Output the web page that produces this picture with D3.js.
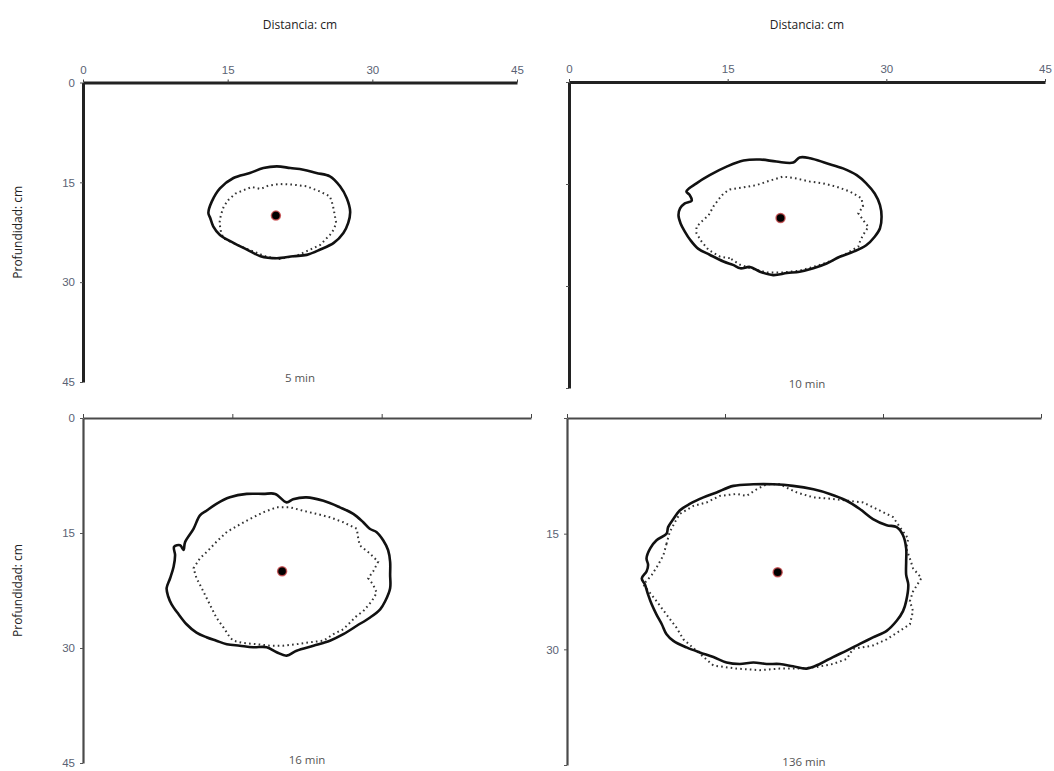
<!DOCTYPE html>
<html>
<head>
<meta charset="utf-8">
<script src="https://cdn.jsdelivr.net/npm/d3@7"></script>
<style>
  body { margin: 0; background: #fff; }
  svg { font-family: "Open Sans", "Noto Sans", sans-serif; }
  .tick text { fill: #5a6274; font-size: 11.5px; }
</style>
</head>
<body>
<svg width="1054" height="771"></svg>
<script>
// ticks (cm)
var tickValues = [0, 15, 30, 45];
var emitter = [20, 20];
var captions = ["5 min", "10 min", "16 min", "136 min"];

// wetting front outlines, [distance cm, depth cm]
// solid = measured, dotted = simulated
var solid5 = [[13.0,19.6],[13.35,17.9],[14.2,15.9],[15.6,14.35],[17.3,13.6],[18.7,12.85],[20.1,12.6],[21.5,12.85],[22.85,13.1],[24.2,13.6],[25.6,14.1],[26.65,15.6],[27.35,17.4],[27.7,19.4],[27.5,21.1],[27.0,22.6],[26.0,24.1],[24.6,25.1],[23.2,25.9],[21.8,26.1],[20.1,26.4],[18.4,26.1],[17.0,25.1],[15.6,24.1],[14.2,22.9],[13.5,21.6],[13.2,20.4]];
var dotted5 = [[15.25,23.9],[14.55,23.4],[14.3,22.4],[14.15,21.1],[14.3,19.9],[14.6,18.6],[15.1,17.6],[15.8,16.7],[16.6,16.2],[17.5,15.7],[18.4,16.0],[19.2,15.5],[20.4,15.25],[21.8,15.35],[23.2,15.6],[24.6,16.4],[25.6,17.1],[25.9,18.4],[26.1,19.9],[26.25,21.1],[26.0,22.1],[25.6,22.9],[24.6,24.4],[23.55,25.1],[22.2,26.0],[20.4,26.5],[19.05,26.2],[17.7,25.4],[16.3,24.6]];

var solid10 = [[10.35,19.6],[10.5,18.6],[10.95,17.85],[11.6,17.45],[11.4,16.6],[11.1,16.1],[12.05,14.9],[13.3,13.7],[14.9,12.45],[16.5,11.55],[18.05,11.4],[19.6,11.7],[21.2,11.85],[21.8,11.1],[22.8,11.2],[24.35,11.95],[25.9,12.7],[27.2,13.7],[28.1,14.9],[28.9,16.4],[29.4,18.1],[29.55,19.8],[29.4,21.5],[28.9,22.75],[28.1,24.0],[26.9,24.95],[25.6,25.7],[24.35,26.7],[23.1,27.4],[21.8,27.9],[20.6,28.1],[19.3,28.4],[18.05,27.9],[17.1,27.2],[16.2,27.4],[15.5,26.9],[14.6,26.4],[13.3,25.4],[12.2,24.5],[11.45,23.2],[10.95,22.0],[10.55,20.8]];
var dotted10 = [[15.2,25.9],[14.3,25.7],[13.2,24.7],[12.55,23.5],[12.05,22.25],[12.05,21.3],[12.55,20.5],[13.2,19.6],[13.65,18.3],[14.1,17.35],[14.6,16.4],[15.2,15.8],[16.5,15.5],[17.75,15.15],[19.0,14.5],[20.25,13.9],[21.5,14.2],[22.8,14.65],[24.0,14.9],[25.3,15.4],[26.55,16.1],[27.65,17.1],[27.8,18.3],[27.35,19.3],[27.8,20.3],[28.3,21.3],[27.8,22.5],[27.5,23.5],[27.35,24.2],[26.25,25.2],[25.0,26.2],[23.4,27.05],[21.8,27.75],[20.25,28.0],[18.7,28.0],[17.4,27.5],[16.2,26.9]];

var solid16 = [[8.4,22.2],[8.75,20.9],[9.1,19.4],[9.25,17.9],[9.15,16.8],[9.75,16.6],[10.1,17.2],[10.25,16.2],[11.1,14.45],[11.75,12.7],[12.4,12.1],[13.4,11.2],[14.75,10.35],[16.45,9.9],[18.1,9.9],[19.3,9.9],[20.45,11.0],[21.1,10.6],[22.45,10.35],[24.15,10.8],[25.8,11.65],[27.15,12.5],[28.15,13.6],[28.8,14.45],[29.5,14.9],[30.15,15.95],[30.65,17.25],[30.85,18.75],[30.85,20.45],[30.85,22.2],[30.35,23.9],[29.85,24.95],[28.8,26.05],[27.5,27.1],[26.15,28.2],[24.8,29.05],[23.15,29.7],[21.45,30.35],[20.45,31.0],[19.45,30.55],[18.45,29.9],[17.1,29.9],[15.75,29.7],[14.45,29.5],[13.4,29.05],[12.4,28.6],[11.4,28.0],[10.4,26.9],[9.6,25.6],[8.9,24.3],[8.55,23.25]];
var dotted16 = [[11.1,19.6],[11.75,18.3],[12.6,17.25],[13.4,16.15],[14.45,14.85],[15.6,14.0],[16.8,13.15],[18.1,12.3],[19.45,11.65],[20.8,11.65],[22.1,12.1],[23.45,12.5],[24.8,12.95],[26.15,13.6],[27.5,14.45],[27.65,15.75],[27.8,16.6],[28.8,17.65],[29.65,18.75],[29.15,20.0],[28.65,20.9],[29.15,21.75],[29.5,22.8],[29.0,23.9],[28.15,25.2],[27.5,25.8],[26.15,27.55],[25.15,28.2],[24.15,29.05],[22.8,29.25],[21.45,29.5],[20.1,29.7],[18.8,29.7],[17.45,29.5],[16.1,29.35],[15.1,29.05],[14.75,28.6],[14.1,27.3],[13.4,26.05],[12.75,24.35],[12.25,23.05],[11.75,21.75],[11.4,20.9]];

var solid136 = [[7.1,20.8],[7.55,19.9],[7.7,19.05],[7.55,18.2],[7.9,16.9],[8.5,15.85],[9.45,15.0],[9.6,14.15],[10.1,13.1],[10.7,12.0],[11.65,11.15],[12.95,10.3],[14.2,9.65],[15.8,8.8],[17.7,8.6],[19.6,8.6],[21.45,8.8],[23.4,9.25],[24.95,9.85],[26.5,10.7],[27.8,11.8],[29.05,13.1],[30.35,13.9],[31.3,14.15],[31.9,15.2],[32.2,16.9],[32.2,18.6],[32.2,20.35],[32.4,21.6],[32.2,23.75],[31.9,25.05],[31.3,26.3],[30.35,27.6],[29.05,28.45],[27.8,29.3],[26.5,30.2],[25.25,31.0],[24.0,31.9],[22.75,32.5],[21.45,32.2],[20.2,31.9],[18.95,31.9],[17.7,31.7],[16.4,31.9],[15.15,31.7],[13.9,31.0],[12.6,30.4],[11.35,29.75],[10.1,28.9],[9.45,28.05],[9.0,26.75],[8.5,25.5],[8.05,24.2],[7.7,22.9],[7.4,21.6]];
var dotted136 = [[9.45,16.3],[9.15,17.8],[8.65,19.05],[8.05,20.35],[7.25,21.6],[8.5,23.75],[9.45,25.5],[10.4,27.2],[11.05,28.7],[12.3,30.2],[13.9,32.1],[16.1,32.5],[18.3,32.7],[20.2,32.5],[22.1,32.5],[23.7,32.3],[25.25,31.9],[26.55,31.25],[27.15,29.95],[29.05,29.5],[30.35,28.7],[31.6,27.6],[32.55,26.75],[32.85,25.05],[32.55,23.75],[32.85,22.5],[33.65,20.75],[32.85,19.5],[32.55,18.2],[32.2,16.9],[32.4,15.65],[31.6,14.15],[30.95,12.85],[29.7,12.0],[28.1,10.95],[25.25,10.5],[23.4,10.3],[21.8,9.65],[20.2,8.6],[18.95,8.6],[18.0,9.25],[17.05,10.1],[16.1,9.85],[14.5,10.1],[13.25,10.95],[12.0,11.4],[10.7,12.45],[10.25,13.5],[9.75,14.8]];

var solids = [solid5, solid10, solid16, solid136];
var dotteds = [dotted5, dotted10, dotted16, dotted136];

// panel boxes in pixels
var panels = [
  {x0: 83,  x1: 517,  y0: 82.5, y1: 382, top: true,  xLabels: true,  yLabels: tickValues},
  {x0: 569, x1: 1045, y0: 82,   y1: 388, top: true,  xLabels: true,  yLabels: []},
  {x0: 83,  x1: 531,  y0: 418,  y1: 763, top: false, xLabels: false, yLabels: tickValues},
  {x0: 567, x1: 1041, y0: 418,  y1: 765, top: false, xLabels: false, yLabels: [15, 30]}
];

var svg = d3.select("svg");

panels.forEach(function(p, i) {
  var x = d3.scaleLinear().domain([0, 45]).range([p.x0, p.x1]);
  var y = d3.scaleLinear().domain([0, 45]).range([p.y0, p.y1]);
  var g = svg.append("g");

  var axisCol = p.top ? "#222" : "#4a4a4a";

  // y axis
  var ya = d3.axisLeft(y).tickValues(tickValues).tickSize(3).tickSizeOuter(0)
    .tickFormat(function(d) { return p.yLabels.indexOf(d) >= 0 ? d : ""; });
  var yg = g.append("g").attr("transform", "translate(" + p.x0 + ",0)").call(ya);
  yg.select(".domain").attr("stroke", axisCol).attr("stroke-width", p.top ? 3 : 2.2);
  yg.selectAll(".tick line").attr("stroke", "#555");
  yg.selectAll(".tick text").attr("dx", "-2");

  // x axis along the top edge
  var xa = d3.axisTop(x).tickValues(tickValues).tickSize(p.top ? 3 : 4).tickSizeOuter(0)
    .tickFormat(function(d) { return p.xLabels ? d : ""; });
  var xg = g.append("g").attr("transform", "translate(0," + p.y0 + ")").call(xa);
  xg.select(".domain").attr("stroke", axisCol).attr("stroke-width", p.top ? 3 : 2);
  xg.selectAll(".tick line").attr("stroke", "#444");
  xg.selectAll(".tick text").attr("dy", "-3");

  // simulated front
  g.append("path")
    .datum(dotteds[i])
    .attr("fill", "none")
    .attr("stroke", "#333")
    .attr("stroke-width", 2)
    .attr("stroke-dasharray", "1.6,3.2")
    .attr("d", d3.line().x(function(d) { return x(d[0]); }).y(function(d) { return y(d[1]); })
      .curve(d3.curveLinearClosed));

  // measured front
  g.append("path")
    .datum(solids[i])
    .attr("fill", "none")
    .attr("stroke", "#111")
    .attr("stroke-width", 2.6)
    .attr("stroke-linejoin", "round")
    .attr("d", d3.line().x(function(d) { return x(d[0]); }).y(function(d) { return y(d[1]); })
      .curve(d3.curveCatmullRomClosed.alpha(0.5)));

  // emitter
  g.append("circle")
    .attr("cx", x(emitter[0])).attr("cy", y(emitter[1]))
    .attr("r", 4.5)
    .attr("fill", "#000")
    .attr("stroke", "#c8474a")
    .attr("stroke-opacity", 0.8)
    .attr("stroke-width", 1.5);

  // caption
  g.append("text")
    .attr("x", (p.x0 + p.x1) / 2)
    .attr("y", p.top ? p.y1 : p.y1 + 0.5)
    .attr("text-anchor", "middle")
    .attr("fill", "#555")
    .attr("font-size", 11.5)
    .text(captions[i]);

  if (p.top) {
    g.append("text")
      .attr("x", (p.x0 + p.x1) / 2)
      .attr("y", 29)
      .attr("text-anchor", "middle")
      .attr("fill", "#222")
      .attr("font-size", 12)
      .text("Distancia: cm");
  }
  if (i % 2 === 0) {
    g.append("text")
      .attr("transform", "translate(22," + (p.y0 + p.y1) / 2 + ") rotate(-90)")
      .attr("text-anchor", "middle")
      .attr("fill", "#222")
      .attr("font-size", 12)
      .text("Profundidad: cm");
  }
});
</script>
</body>
</html>
